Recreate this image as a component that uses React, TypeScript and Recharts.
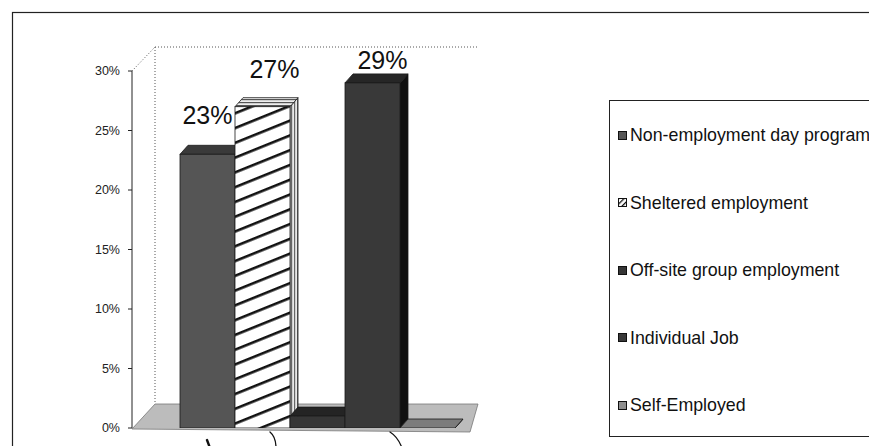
import React from "react";
import { BarChart, Bar, XAxis, YAxis, LabelList, Legend } from "recharts";

// ---- data ----
const categories = ["Day / employment setting"];
const seriesNames = [
  "Non-employment day program",
  "Sheltered employment",
  "Off-site group employment",
  "Individual Job",
  "Self-Employed",
];
const seriesValues = [23, 27, 1, 29, 0];
const seriesShowLabel = [true, true, false, true, false];
const yTicks = [0, 5, 10, 15, 20, 25, 30];

// ---- layout ----
const W = 869;
const H = 446;
const PLOT_LEFT = 132;
const PLOT_TOP = 71;
const PLOT_BOTTOM = 428;
const PLOT_RIGHT = 503;
const Y_AXIS_W = 60;
const DEPTH_X = 8; // bar depth
const DEPTH_Y = 9;
const WALL_DX = 23; // back wall offset
const WALL_DY = 24;
const FLOOR_RIGHT = 478;
const FONT = "'Liberation Sans', Arial, sans-serif";

const looks = [
  { front: "#555555", top: "#3a3a3a", side: "#2c2c2c", labelDx: 0, labelLift: 30 },
  { front: "url(#stripeFront)", top: "url(#stripeTop)", side: "url(#stripeSide)", labelDx: 12, labelLift: 29 },
  { front: "#363636", top: "#242424", side: "#1a1a1a", labelDx: 0, labelLift: 20 },
  { front: "#393939", top: "#262626", side: "#101010", labelDx: 10, labelLift: 14 },
  { front: "#8e8e8e", top: "#7c7c7c", side: "#5e5e5e", labelDx: 0, labelLift: 20 },
];

const data = categories.map((c) => {
  const row: Record<string, string | number> = { category: c };
  seriesNames.forEach((n, i) => {
    row["s" + i] = seriesValues[i];
  });
  return row;
});

function Bar3D(props: any) {
  const { x, y, width, height, look } = props;
  if (x == null || y == null) return null;
  const h = Math.max(0, height || 0);
  const w = width;
  const stroke = "#1a1a1a";
  return (
    <g>
      <polygon
        points={`${x + w},${y} ${x + w + DEPTH_X},${y - DEPTH_Y} ${x + w + DEPTH_X},${y + h - DEPTH_Y} ${x + w},${y + h}`}
        fill={look.side}
        stroke={stroke}
        strokeWidth={0.8}
      />
      <polygon
        points={`${x},${y} ${x + DEPTH_X},${y - DEPTH_Y} ${x + w + DEPTH_X},${y - DEPTH_Y} ${x + w},${y}`}
        fill={look.top}
        stroke={stroke}
        strokeWidth={0.8}
      />
      {h > 0 && (
        <rect x={x} y={y} width={w} height={h} fill={look.front} stroke={stroke} strokeWidth={0.8} />
      )}
    </g>
  );
}

function BarLabel(props: any) {
  const { x, y, width, value, look } = props;
  if (x == null) return null;
  return (
    <text
      x={x + width / 2 + look.labelDx}
      y={y - look.labelLift}
      textAnchor="middle"
      fontFamily={FONT}
      fontSize={25}
      fill="#111"
    >
      {`${value}%`}
    </text>
  );
}

// legend keeps the series order (Recharts sorts its payload by name)
function LegendBox() {
  return (
    <div
      style={{
        width: 300,
        height: 337,
        border: "1px solid #222",
        boxSizing: "border-box",
        position: "relative",
        background: "#fff",
      }}
    >
      {seriesNames.map((name, k) => (
        <div
          key={name}
          style={{
            position: "absolute",
            left: 8,
            top: 24 + k * 67.5,
            display: "flex",
            alignItems: "center",
            whiteSpace: "nowrap",
            fontFamily: FONT,
            fontSize: 17.8,
            color: "#111",
          }}
        >
          <svg width={10} height={10} style={{ marginRight: 2 }}>
            <rect
              x={0.5}
              y={0.5}
              width={8}
              height={8}
              fill={k === 1 ? "url(#legendStripe)" : looks[k].front}
              stroke="#111"
            />
          </svg>
          {name}
        </div>
      ))}
    </div>
  );
}

export default function App() {
  const backTop = PLOT_TOP - WALL_DY;
  const backLeft = PLOT_LEFT + WALL_DX;
  const floorBack = PLOT_BOTTOM - WALL_DY;
  return (
    <div
      style={{
        position: "fixed",
        left: 0,
        top: 0,
        width: W,
        height: H,
        overflow: "hidden",
        background: "#fff",
      }}
    >
      <svg width={W} height={H} style={{ position: "absolute", left: 0, top: 0 }}>
        <defs>
          <pattern
            id="stripeFront"
            patternUnits="userSpaceOnUse"
            width={12}
            height={13.7}
            patternTransform="rotate(-22)"
          >
            <rect width={12} height={13.7} fill="#fff" />
            <rect width={12} height={2.6} fill="#111" />
          </pattern>
          <pattern id="stripeSide" patternUnits="userSpaceOnUse" width={3} height={10}>
            <rect width={3} height={10} fill="#e8e8e8" />
            <rect width={1.2} height={10} fill="#666" />
          </pattern>
          <pattern id="stripeTop" patternUnits="userSpaceOnUse" width={10} height={3}>
            <rect width={10} height={3} fill="#eee" />
            <rect width={10} height={1.2} fill="#555" />
          </pattern>
          <pattern
            id="legendStripe"
            patternUnits="userSpaceOnUse"
            width={4}
            height={4}
            patternTransform="rotate(-45)"
          >
            <rect width={4} height={4} fill="#fff" />
            <rect width={4} height={1.3} fill="#111" />
          </pattern>
        </defs>
        {/* outer frame */}
        <rect x={12.5} y={12.5} width={W + 20} height={H + 20} fill="none" stroke="#222" strokeWidth={1.2} />
        {/* floor */}
        <polygon
          points={`${PLOT_LEFT},${PLOT_BOTTOM + 1} ${backLeft},${floorBack} ${FLOOR_RIGHT},${floorBack} ${FLOOR_RIGHT - 8},${PLOT_BOTTOM + 4}`}
          fill="#bcbcbc"
          stroke="#777"
          strokeWidth={0.8}
        />
        {/* back wall (dotted) */}
        <g stroke="#555" strokeWidth={1} strokeDasharray="1 2" fill="none">
          <line x1={backLeft} y1={backTop} x2={backLeft} y2={floorBack} />
          <line x1={backLeft} y1={backTop} x2={FLOOR_RIGHT} y2={backTop} />
          <line x1={PLOT_LEFT} y1={PLOT_TOP} x2={backLeft} y2={backTop} />
        </g>
        {/* pointer strokes below the axis */}
        <g stroke="#111" fill="none" strokeLinecap="round">
          <path d="M207,440 L210,448" strokeWidth={2.4} />
          <path d="M270,432 Q276,437 276,448" strokeWidth={1.3} />
          <path d="M390,432 Q398,437 402,448" strokeWidth={1.3} />
        </g>
      </svg>

      <div style={{ position: "absolute", left: 0, top: 0 }}>
        <BarChart
          width={W}
          height={H}
          data={data}
          barSize={55}
          barGap={0}
          margin={{
            top: PLOT_TOP,
            right: W - PLOT_RIGHT,
            bottom: H - PLOT_BOTTOM,
            left: PLOT_LEFT - Y_AXIS_W,
          }}
        >
          <XAxis dataKey="category" hide />
          <YAxis
            domain={[0, 30]}
            ticks={yTicks}
            interval={0}
            width={Y_AXIS_W}
            tickFormatter={(v: number) => `${v}%`}
            axisLine={{ stroke: "#222" }}
            tickLine={{ stroke: "#222" }}
            tickSize={4}
            tickMargin={8}
            tick={{ fontSize: 12.5, fill: "#222", fontFamily: FONT }}
            allowDataOverflow
          />
          <Legend
            layout="horizontal"
            verticalAlign="middle"
            align="center"
            wrapperStyle={{ left: 609, top: 100, width: 300 }}
            content={() => <LegendBox />}
          />
          {seriesNames.map((name, i) => (
            <Bar
              key={name}
              dataKey={"s" + i}
              name={name}
              fill={looks[i].front}
              isAnimationActive={false}
              shape={(p: any) => <Bar3D {...p} look={looks[i]} />}
            >
              {seriesShowLabel[i] && (
                <LabelList
                  dataKey={"s" + i}
                  content={(p: any) => <BarLabel {...p} look={looks[i]} />}
                />
              )}
            </Bar>
          ))}
        </BarChart>
      </div>
    </div>
  );
}
